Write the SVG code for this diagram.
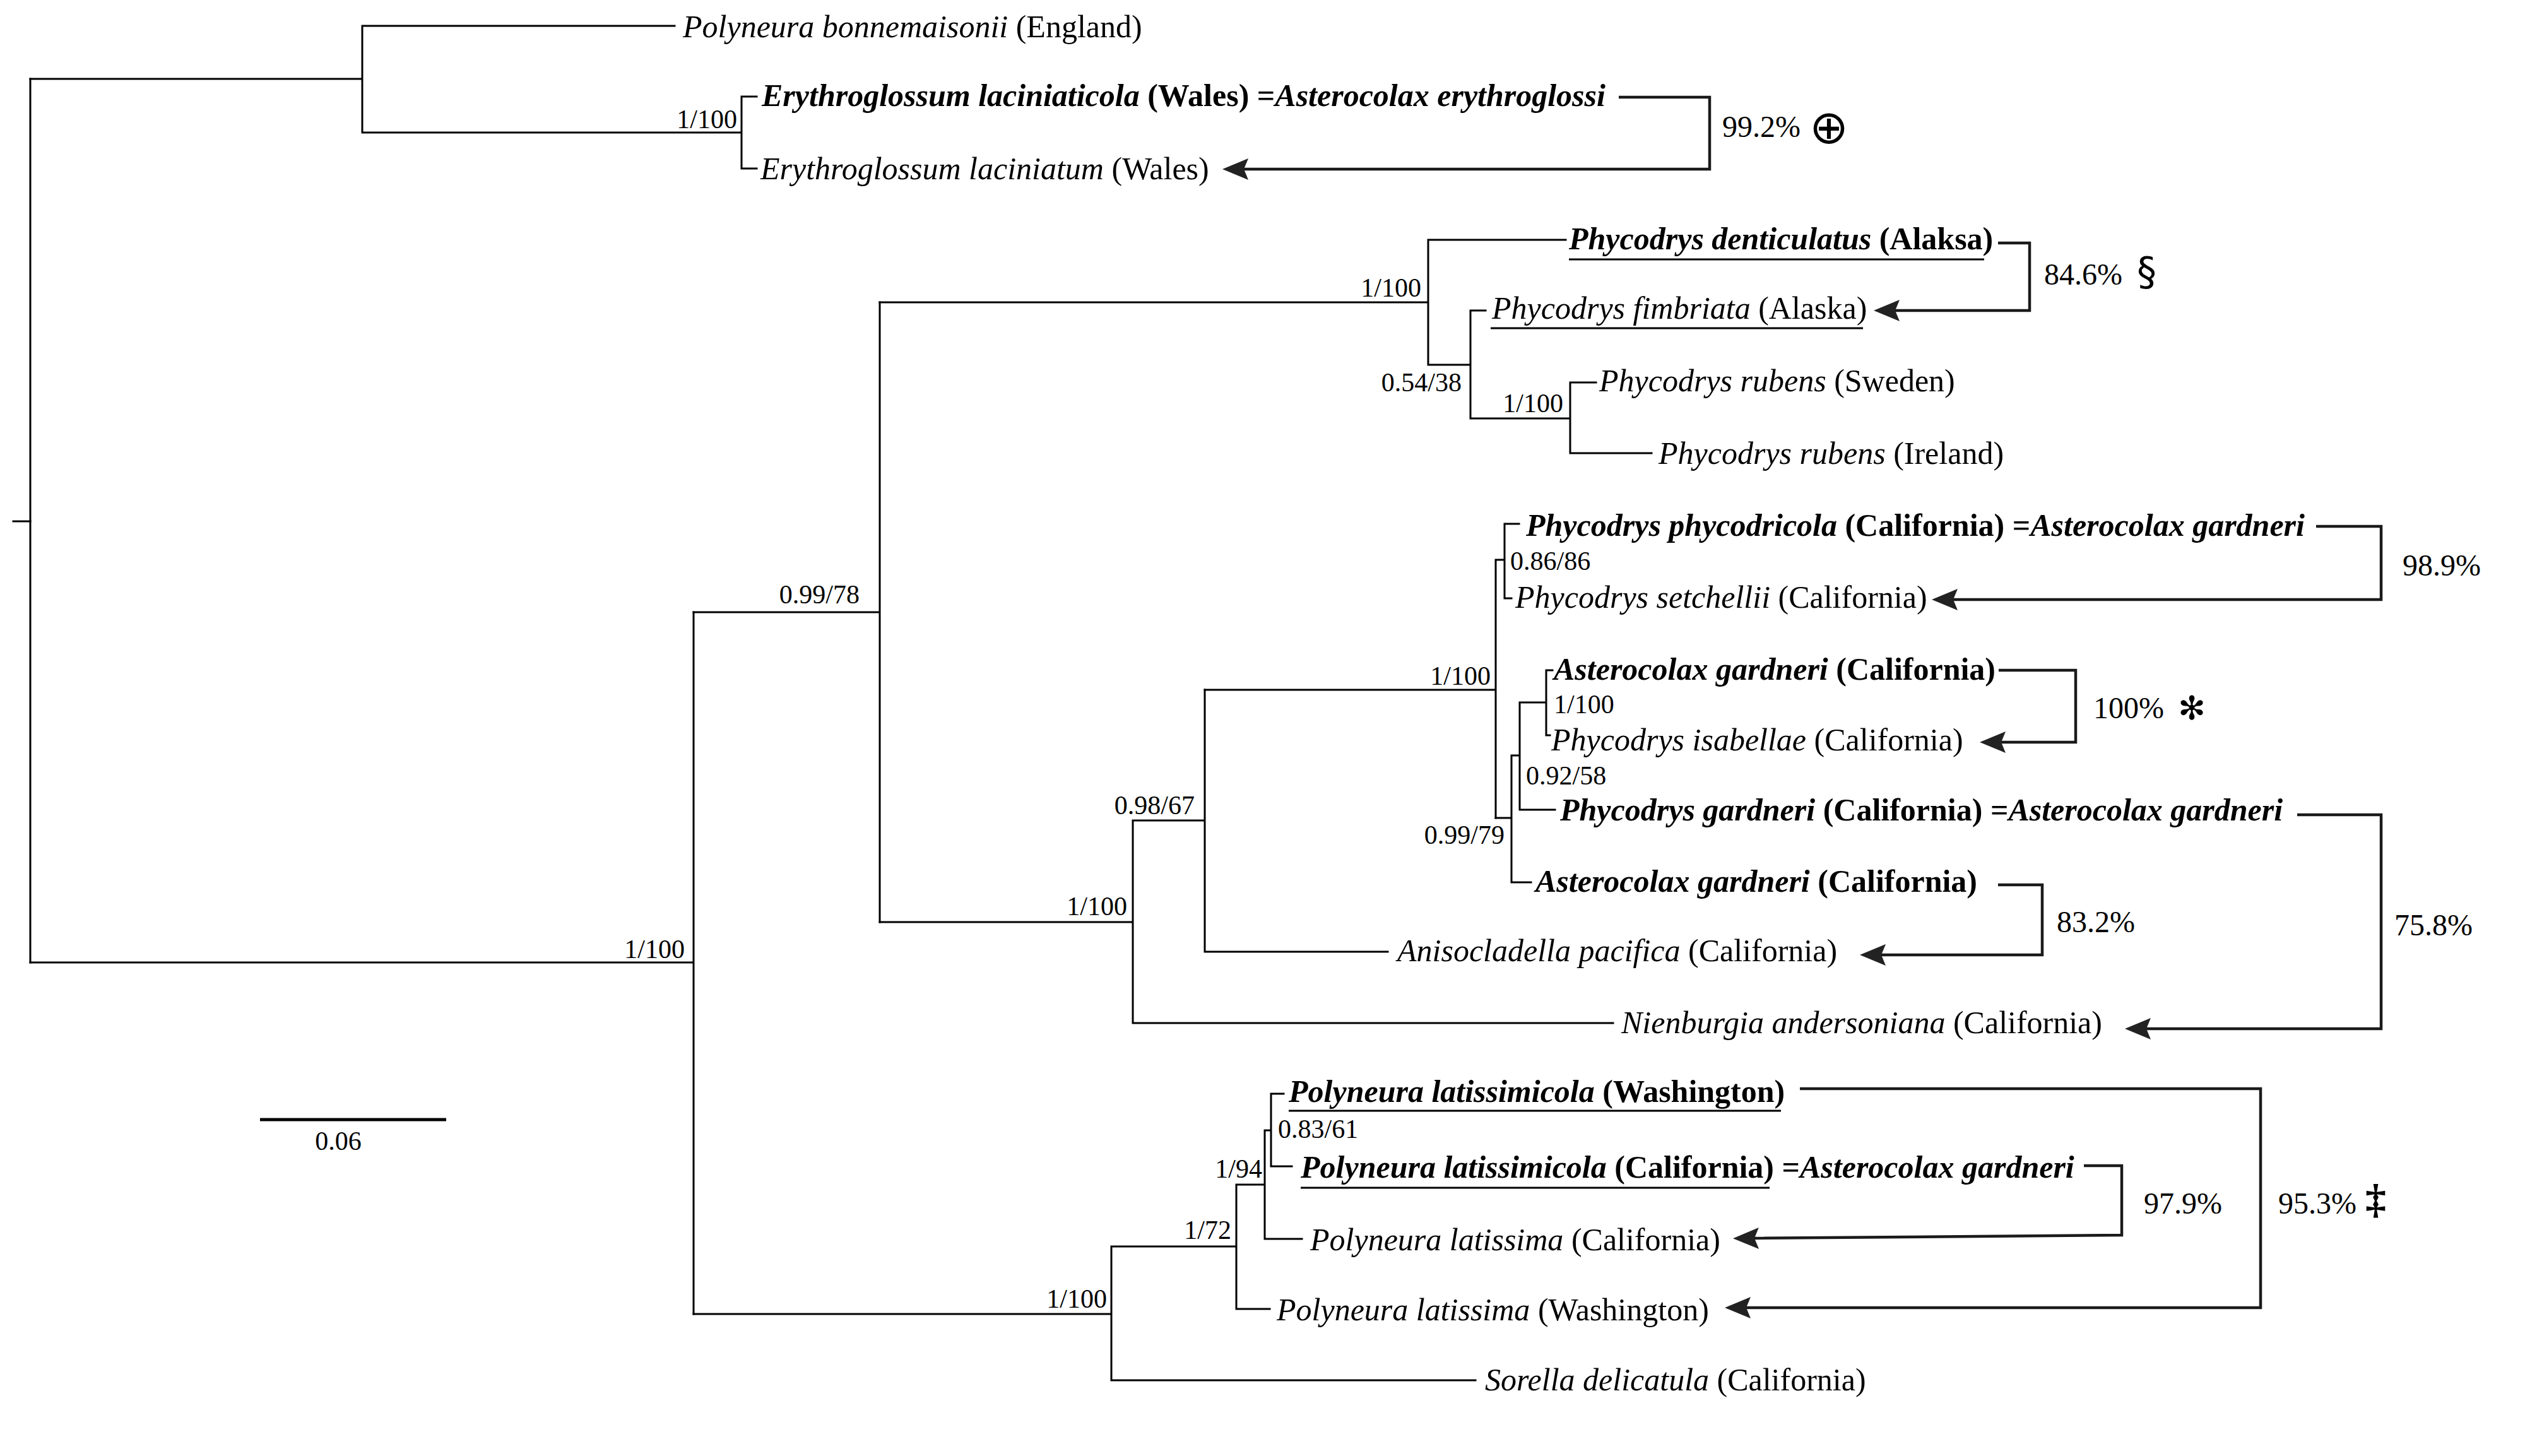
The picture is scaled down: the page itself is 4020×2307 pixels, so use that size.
<svg xmlns="http://www.w3.org/2000/svg" width="4020" height="2307" viewBox="0 0 4020 2307">
<style>
text{font-family:"Liberation Serif","Times New Roman",serif;fill:#000}
.leaf{font-size:50px}
.i{font-style:italic}
.b{font-weight:bold}
.bi{font-weight:bold;font-style:italic}
.sup{font-size:42px}
.pct{font-size:48px}
.sym{font-family:"DejaVu Sans",sans-serif}
.edge{fill:none;stroke:#000;stroke-width:3;stroke-linecap:square}
.ul{stroke:#000;stroke-width:3}
.br{fill:none;stroke:#1a1a1a;stroke-width:4.5;marker-end:url(#ah)}
.scale{stroke:#000;stroke-width:5}
</style>
<defs>
<marker id="ah" markerUnits="userSpaceOnUse" viewBox="-15 -20 50 40" markerWidth="50" markerHeight="40" refX="0" refY="0" orient="auto" overflow="visible">
<path d="M30,0 L-11,-17 L-4,0 L-11,17 Z" fill="#222"/>
</marker>
</defs>
<rect width="4020" height="2307" fill="#fff"/>

<g id="tree-edges">
<path class="edge" d="M21,826 H48"/>
<path class="edge" d="M48,125 V1525"/>
<path class="edge" d="M48,125 H574 M574,41 V210 M574,41 H1069 M574,210 H1175 M1175,153 V267 M1175,153 H1199 M1175,267 H1199"/>
<path class="edge" d="M48,1525 H1099 M1099,970 V2082"/>
<path class="edge" d="M1099,970 H1394 M1394,479 V1461"/>
<path class="edge" d="M1394,479 H2263 M2263,380 V578 M2263,380 H2481 M2263,578 H2330 M2330,492 V663 M2330,492 H2354 M2330,663 H2488 M2488,606 V718 M2488,606 H2529 M2488,718 H2617"/>
<path class="edge" d="M1394,1461 H1795 M1795,1300 V1621 M1795,1300 H1909 M1909,1093 V1508 M1909,1508 H2199 M1795,1621 H2556"/>
<path class="edge" d="M1909,1093 H2370 M2370,887 V1296 M2370,887 H2384 M2384,830 V948 M2384,830 H2407 M2384,948 H2395"/>
<path class="edge" d="M2370,1296 H2395 M2395,1197 V1398 M2395,1197 H2408 M2408,1113 V1283 M2408,1113 H2450 M2450,1062 V1165 M2450,1062 H2460 M2450,1165 H2456 M2408,1283 H2464 M2395,1398 H2426"/>
<path class="edge" d="M1099,2082 H1761 M1761,1975 V2187 M1761,2187 H2338 M1761,1975 H1959 M1959,1877 V2074 M1959,2074 H2012 M1959,1877 H2004 M2004,1791 V1963 M2004,1963 H2063 M2004,1791 H2014 M2014,1733 V1848 M2014,1733 H2034 M2014,1848 H2047"/>
</g>

<g id="support-values" class="sup">
<text x="1168" y="203" text-anchor="end">1/100</text>
<text x="2252" y="470" text-anchor="end">1/100</text>
<text x="2316" y="620" text-anchor="end">0.54/38</text>
<text x="2477" y="653" text-anchor="end">1/100</text>
<text x="1362" y="956" text-anchor="end">0.99/78</text>
<text x="1786" y="1450" text-anchor="end">1/100</text>
<text x="1893" y="1290" text-anchor="end">0.98/67</text>
<text x="2362" y="1085" text-anchor="end">1/100</text>
<text x="2393" y="903">0.86/86</text>
<text x="2462" y="1130">1/100</text>
<text x="2418" y="1243">0.92/58</text>
<text x="2384" y="1337" text-anchor="end">0.99/79</text>
<text x="1085" y="1518" text-anchor="end">1/100</text>
<text x="1754" y="2072" text-anchor="end">1/100</text>
<text x="1951" y="1963" text-anchor="end">1/72</text>
<text x="2000" y="1866" text-anchor="end">1/94</text>
<text x="2025" y="1803">0.83/61</text>
</g>

<g id="leaf-polyneura-bonnemaisonii"><text class="leaf" x="1082" y="59"><tspan class="i">Polyneura bonnemaisonii</tspan> (England)</text></g>
<g id="leaf-erythroglossum-laciniaticola"><text class="leaf" x="1207" y="168"><tspan class="bi">Erythroglossum laciniaticola</tspan><tspan class="b"> (Wales) =</tspan><tspan class="bi">Asterocolax erythroglossi</tspan></text></g>
<g id="leaf-erythroglossum-laciniatum"><text class="leaf" x="1205" y="284"><tspan class="i">Erythroglossum laciniatum</tspan> (Wales)</text></g>
<g id="leaf-phycodrys-denticulatus"><text class="leaf" x="2486" y="395"><tspan class="bi">Phycodrys denticulatus</tspan><tspan class="b"> (Alaksa)</tspan></text><line class="ul" x1="2486" y1="411" x2="3144" y2="411"/></g>
<g id="leaf-phycodrys-fimbriata"><text class="leaf" x="2364" y="505"><tspan class="i">Phycodrys fimbriata</tspan> (Alaska)</text><line class="ul" x1="2362" y1="520" x2="2952" y2="520"/></g>
<g id="leaf-phycodrys-rubens-sweden"><text class="leaf" x="2534" y="620"><tspan class="i">Phycodrys rubens</tspan> (Sweden)</text></g>
<g id="leaf-phycodrys-rubens-ireland"><text class="leaf" x="2628" y="735"><tspan class="i">Phycodrys rubens</tspan> (Ireland)</text></g>
<g id="leaf-phycodrys-phycodricola"><text class="leaf" x="2418" y="849"><tspan class="bi">Phycodrys phycodricola</tspan><tspan class="b"> (California) =</tspan><tspan class="bi">Asterocolax gardneri</tspan></text></g>
<g id="leaf-phycodrys-setchellii"><text class="leaf" x="2401" y="963"><tspan class="i">Phycodrys setchellii</tspan> (California)</text></g>
<g id="leaf-asterocolax-gardneri-1"><text class="leaf" x="2462" y="1077"><tspan class="bi">Asterocolax gardneri</tspan><tspan class="b"> (California)</tspan></text></g>
<g id="leaf-phycodrys-isabellae"><text class="leaf" x="2458" y="1189"><tspan class="i">Phycodrys isabellae</tspan> (California)</text></g>
<g id="leaf-phycodrys-gardneri"><text class="leaf" x="2472" y="1300"><tspan class="bi">Phycodrys gardneri</tspan><tspan class="b"> (California) =</tspan><tspan class="bi">Asterocolax gardneri</tspan></text></g>
<g id="leaf-asterocolax-gardneri-2"><text class="leaf" x="2433" y="1413"><tspan class="bi">Asterocolax gardneri</tspan><tspan class="b"> (California)</tspan></text></g>
<g id="leaf-anisocladella-pacifica"><text class="leaf" x="2214" y="1523"><tspan class="i">Anisocladella pacifica</tspan> (California)</text></g>
<g id="leaf-nienburgia-andersoniana"><text class="leaf" x="2569" y="1637"><tspan class="i">Nienburgia andersoniana</tspan> (California)</text></g>
<g id="leaf-polyneura-latissimicola-washington"><text class="leaf" x="2042" y="1746"><tspan class="bi">Polyneura latissimicola</tspan><tspan class="b"> (Washington)</tspan></text><line class="ul" x1="2042" y1="1760" x2="2822" y2="1760"/></g>
<g id="leaf-polyneura-latissimicola-california"><text class="leaf" x="2061" y="1866"><tspan class="bi">Polyneura latissimicola</tspan><tspan class="b"> (California) =</tspan><tspan class="bi">Asterocolax gardneri</tspan></text><line class="ul" x1="2061" y1="1882" x2="2804" y2="1882"/></g>
<g id="leaf-polyneura-latissima-california"><text class="leaf" x="2076" y="1981"><tspan class="i">Polyneura latissima</tspan> (California)</text></g>
<g id="leaf-polyneura-latissima-washington"><text class="leaf" x="2023" y="2092"><tspan class="i">Polyneura latissima</tspan> (Washington)</text></g>
<g id="leaf-sorella-delicatula"><text class="leaf" x="2353" y="2203"><tspan class="i">Sorella delicatula</tspan> (California)</text></g>

<g id="connectors">
<path class="br" d="M2565,154 H2709 V268 H1967"/>
<path class="br" d="M3166,385 H3216 V492 H2999"/>
<path class="br" d="M3670,834 H3773 V950 H3091"/>
<path class="br" d="M3167,1062 H3289 V1176 H3167"/>
<path class="br" d="M3640,1291 H3773 V1630 H3397"/>
<path class="br" d="M3166,1402 H3236 V1513 H2977"/>
<path class="br" d="M3302,1847 H3362 V1957 L2776,1962"/>
<path class="br" d="M2852,1725 H3582 V2072 H2763"/>
</g>

<g id="similarity-labels" class="pct">
<text x="2729" y="217">99.2%</text>
<text class="sym" x="2898" y="227" font-size="74" text-anchor="middle">⊕</text>
<text x="3239" y="451">84.6%</text>
<text class="sym" x="3386" y="452" font-size="62">§</text>
<text x="3807" y="912">98.9%</text>
<text x="3317" y="1138">100%</text>
<text class="sym" x="3473" y="1140" font-size="52" text-anchor="middle">✻</text>
<text x="3794" y="1482">75.8%</text>
<text x="3259" y="1477">83.2%</text>
<text x="3397" y="1923">97.9%</text>
<text x="3610" y="1923">95.3%</text>
<text x="3748" y="1922" font-size="66" font-weight="bold">‡</text>
</g>

<g id="scale-bar">
<line class="scale" x1="412" y1="1774" x2="707" y2="1774"/>
<text class="sup" x="536" y="1822" text-anchor="middle">0.06</text>
</g>
</svg>
